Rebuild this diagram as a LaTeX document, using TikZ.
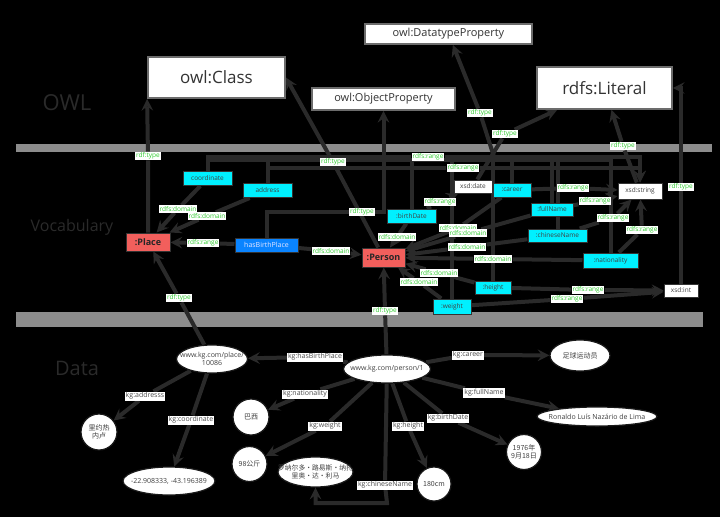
\documentclass[tikz,border=0pt]{standalone}
\usepackage{fontspec}
\setmainfont{Open Sans}
\newfontfamily\cjk{Noto Sans CJK SC}
\usetikzlibrary{shapes.geometric,backgrounds}

\definecolor{edgegray}{HTML}{2A2A2A}
\definecolor{bargray}{HTML}{8C8C8C}
\definecolor{lblgreen}{HTML}{2FCB2F}
\definecolor{layertext}{HTML}{2A2A2A}
\definecolor{classred}{HTML}{F25F5C}
\definecolor{propblue}{HTML}{0A84FF}
\definecolor{propcyan}{HTML}{00F0FF}

\newcommand{\zw}[1]{\makebox[0pt]{#1}}

\tikzset{
  layer/.style={text=layertext},
  owlbox/.style={draw=gray!85!black, line width=1.8pt, fill=white, text=black!80, inner sep=0pt},
  clsbox/.style={draw=black!80, line width=1pt, fill=classred, text=black!85,
    font=\fontsize{9}{10}\selectfont\bfseries, inner sep=0pt,
    minimum width=44pt, minimum height=18pt},
  objbox/.style={draw=black!80, line width=1pt, fill=propblue, text=white!90!blue,
    font=\fontsize{7}{8}\selectfont, inner sep=0pt, minimum width=63pt, minimum height=14pt},
  dtpbox/.style={draw=black!80, line width=1pt, fill=propcyan, text=black!75,
    font=\fontsize{6.5}{7}\selectfont, inner sep=0pt, minimum height=14pt},
  xsdbox/.style={draw=black!80, line width=1pt, fill=white, text=black!75,
    font=\fontsize{6.5}{7}\selectfont, inner sep=0pt, minimum height=14pt},
  inst/.style={ellipse, draw=black!90, line width=1.2pt, fill=white, text=black!75,
    font=\fontsize{7}{8.5}\selectfont, align=center, inner sep=0pt},
  lit/.style={circle, draw=black!90, line width=1.2pt, fill=white, text=black!75,
    font=\fontsize{7}{8.5}\selectfont\cjk, align=center, inner sep=0pt, minimum size=35pt},
  vlbl/.style={fill=white, text=lblgreen, font=\fontsize{6.5}{7}\selectfont, inner sep=1pt},
  dlbl/.style={fill=white, text=black!70, font=\fontsize{7}{8}\selectfont, inner sep=1pt},
  edge/.style={draw=edgegray, line width=4pt},
  arr/.style={edge, -stealth}
}

\begin{document}
\begin{tikzpicture}[x=1pt,y=-1pt]
\useasboundingbox (0,0) rectangle (720,517);

\node[layer, font=\fontsize{22}{22}\selectfont] (owl) at (67,103) {OWL};
\node[layer, font=\fontsize{16}{16}\selectfont] (voc) at (72,227) {Vocabulary};
\node[layer, font=\fontsize{20}{20}\selectfont] (data) at (77,368) {Data};

\node[owlbox, minimum width=137pt, minimum height=41pt,
    font=\fontsize{17}{18}\selectfont] (cls) at (216.5,77.5) {owl:Class};
\node[owlbox, minimum width=143pt, minimum height=22pt,
    font=\fontsize{11}{12}\selectfont] (op) at (383.5,99) {owl:ObjectProperty};
\node[owlbox, minimum width=167pt, minimum height=20pt,
    font=\fontsize{11}{12}\selectfont] (dp) at (448.5,34) {owl:DatatypeProperty};
\node[owlbox, minimum width=135pt, minimum height=42pt,
    font=\fontsize{17}{18}\selectfont] (lit) at (604.5,88) {rdfs:Literal};

\node[clsbox] (place) at (148,242) {:Place};
\node[clsbox, minimum width=43pt, minimum height=19pt] (person) at (383.5,257.5) {:Person};
\node[objbox] (hbp) at (266.5,245) {hasBirthPlace};
\node[dtpbox, minimum width=49pt] (coordinate) at (207.5,178.5) {coordinate};
\node[dtpbox, minimum width=49pt] (address) at (267.5,190.5) {address};
\node[dtpbox, minimum width=38pt] (career) at (512,190) {:career};
\node[dtpbox, minimum width=49pt] (birthdate) at (411.5,216) {:birthDate};
\node[dtpbox, minimum width=42pt, minimum height=13pt] (fullname) at (552,209.5) {:fullName};
\node[dtpbox, minimum width=59pt, minimum height=13pt] (chinesename) at (557.5,235.5) {:chineseName};
\node[dtpbox, minimum width=55pt, minimum height=15pt] (nationality) at (610.5,260.5) {:nationality};
\node[dtpbox, minimum width=36pt, minimum height=13pt] (height) at (493,287.5) {:height};
\node[dtpbox, minimum width=38pt, minimum height=15pt] (weight) at (452,306.5) {:weight};
\node[xsdbox, minimum width=38pt, minimum height=13pt] (xsddate) at (473,186.5) {xsd:date};
\node[xsdbox, minimum width=44pt, minimum height=16pt] (xsdstring) at (640,191) {xsd:string};
\node[xsdbox, minimum width=34pt, minimum height=13pt] (xsdint) at (681,290.5) {xsd:int};
\coordinate (dtbus) at (495,160);

\node[inst, minimum width=71pt, minimum height=28pt] (place10086) at (212,359)
    {\zw{www.kg.com/place/}\\\zw{10086}};
\node[inst, minimum width=87pt, minimum height=28pt] (person1) at (387,369)
    {\zw{www.kg.com/person/1}};
\node[inst, minimum width=60pt, minimum height=31pt, font=\fontsize{7}{8.5}\selectfont\cjk]
    (career1) at (580,355.5) {\zw{足球运动员}};
\node[inst, minimum width=120pt, minimum height=19pt] (fullname1) at (597,416.5)
    {\zw{Ronaldo Luís Nazário de Lima}};
\node[inst, minimum width=75pt, minimum height=30pt, font=\fontsize{6.8}{8}\selectfont\cjk]
    (chinesename1) at (315.5,472) {\zw{罗纳尔多·路易斯·纳扎}\\\zw{里奥·达·利马}};
\node[inst, minimum width=92pt, minimum height=28pt] (coordinate1) at (169,481)
    {\zw{-22.908333, -43.196389}};
\node[lit] (birthdate1) at (524,452) {\zw{1976年}\\\zw{9月18日}};
\node[lit, minimum size=34pt] (height1) at (434,484) {\zw{180cm}};
\node[lit] (weight1) at (249.5,464) {\zw{98公斤}};
\node[lit, minimum size=36pt] (nationality1) at (251,417) {\zw{巴西}};
\node[lit, minimum size=36pt] (address1) at (99,432) {\zw{里约热}\\\zw{内卢}};
\coordinate (cnbend) at (387,503);

\node[vlbl] (tplace) at (148,156) {rdf:type};
\node[vlbl] (tperson) at (333,162) {rdf:type};
\node[vlbl] (thbp) at (362,212) {rdf:type};
\node[vlbl] (tdtp) at (480,113) {rdf:type};
\node[vlbl] (tdate) at (505,134) {rdf:type};
\node[vlbl] (tstring) at (623,146) {rdf:type};
\node[vlbl] (tint) at (681,187) {rdf:type};
\node[vlbl] (tplace1) at (179,298) {rdf:type};
\node[vlbl] (tperson1) at (385,311) {rdf:type};
\node[vlbl] (dcoord) at (178,209) {rdfs:domain};
\node[vlbl] (daddr) at (207,216) {rdfs:domain};
\node[vlbl] (rhbp) at (203,243) {rdfs:range};
\node[vlbl] (dhbp) at (331,251) {rdfs:domain};
\node[vlbl] (rcoord) at (428,157) {rdfs:range};
\node[vlbl] (raddr) at (463,168) {rdfs:range};
\node[vlbl] (rbirth) at (440,202) {rdfs:range};
\node[vlbl] (rcareer) at (573,188) {rdfs:range};
\node[vlbl] (rfull) at (595,201) {rdfs:range};
\node[vlbl] (rchinese) at (613,218) {rdfs:range};
\node[vlbl] (rnation) at (642,230) {rdfs:range};
\node[vlbl] (rheight) at (588,290) {rdfs:range};
\node[vlbl] (rweight) at (567,299) {rdfs:range};
\node[vlbl] (dbirth) at (397,237) {rdfs:domain};
\node[vlbl] (dcareer) at (458,228) {rdfs:domain};
\node[vlbl] (dfull) at (468,233) {rdfs:domain};
\node[vlbl] (dchinese) at (467,247) {rdfs:domain};
\node[vlbl] (dnation) at (493,259) {rdfs:domain};
\node[vlbl] (dheight) at (439,273) {rdfs:domain};
\node[vlbl] (dweight) at (419,282) {rdfs:domain};

\node[dlbl] (khbp) at (315,357) {kg:hasBirthPlace};
\node[dlbl] (kcareer) at (468,355) {kg:career};
\node[dlbl] (kfull) at (484,393) {kg:fullName};
\node[dlbl] (kbirth) at (448,418) {kg:birthDate};
\node[dlbl] (kheight) at (408,426) {kg:height};
\node[dlbl] (kchinese) at (385,485) {kg:chineseName};
\node[dlbl] (knation) at (305,394) {kg:nationality};
\node[dlbl] (kweight) at (325,426) {kg:weight};
\node[dlbl] (kaddr) at (145,396) {kg:addresss};
\node[dlbl] (kcoord) at (191,420) {kg:coordinate};

\begin{pgfonlayer}{background}
\fill[black] (0,0) rectangle (720,517);
\fill[bargray] (16,144) rectangle (712,152);
\fill[bargray] (16,312) rectangle (703,327);

\draw[arr] (place) -- (tplace) -- (cls.south west);
\draw[arr] (person) -- (tperson) -- (cls.east);
\draw[arr] (hbp) |- (thbp) -| (op);
\foreach \p in {coordinate,address,birthdate,career,fullname,chinesename,nationality,height,weight}
  \draw[edge] (\p) |- (dtbus);
\draw[arr] (dtbus) -- (tdtp) -- (dp);
\draw[arr] (xsddate) -- (tdate) -- (lit);
\draw[arr] (xsdstring) -- (tstring) -- (lit);
\draw[arr] (xsdint) -- (tint) |- (lit);

\draw[arr] (coordinate) -- (dcoord) -- (place);
\draw[arr] (address) -- (daddr) -- (place);
\draw[arr] (hbp) -- (rhbp) -- (place);
\draw[arr] (hbp) -- (dhbp) -- (person);
\draw[arr] (coordinate) |- (rcoord) -| (xsdstring);
\draw[arr] (address) |- (raddr) -| (xsdstring);
\draw[arr] (birthdate) -- (rbirth) -- (xsddate);
\draw[arr] (career) -- (rcareer) -- (xsdstring);
\draw[arr] (fullname) -- (rfull) -- (xsdstring);
\draw[arr] (chinesename) -- (rchinese) -- (xsdstring);
\draw[arr] (nationality) -- (rnation) -- (xsdstring);
\draw[arr] (height) -- (rheight) -- (xsdint);
\draw[arr] (weight) -- (rweight) -- (xsdint);
\draw[arr] (birthdate) -- (dbirth) -- (person);
\draw[arr] (career) -- (dcareer) -- (person);
\draw[arr] (fullname) -- (dfull) -- (person);
\draw[arr] (chinesename) -- (dchinese) -- (person);
\draw[arr] (nationality) -- (dnation) -- (person);
\draw[arr] (height) -- (dheight) -- (person);
\draw[arr] (weight) -- (dweight) -- (person);

\draw[arr] (place10086) -- (tplace1) -- (place);
\draw[arr] (person1) -- (tperson1) -- (person);
\draw[arr] (person1) -- (khbp) -- (place10086);
\draw[arr] (person1) -- (kcareer) -- (career1);
\draw[arr] (person1) -- (kfull) -- (fullname1);
\draw[arr] (person1) -- (kbirth) -- (birthdate1);
\draw[arr] (person1) -- (kheight) -- (height1);
\draw[arr] (person1) -- (kchinese) -- (cnbend) -| (chinesename1);
\draw[arr] (person1) -- (knation) -- (nationality1);
\draw[arr] (person1) -- (kweight) -- (weight1);
\draw[arr] (place10086) -- (kaddr) -- (address1);
\draw[arr] (place10086) -- (kcoord) -- (coordinate1);
\end{pgfonlayer}
\end{tikzpicture}
\end{document}
